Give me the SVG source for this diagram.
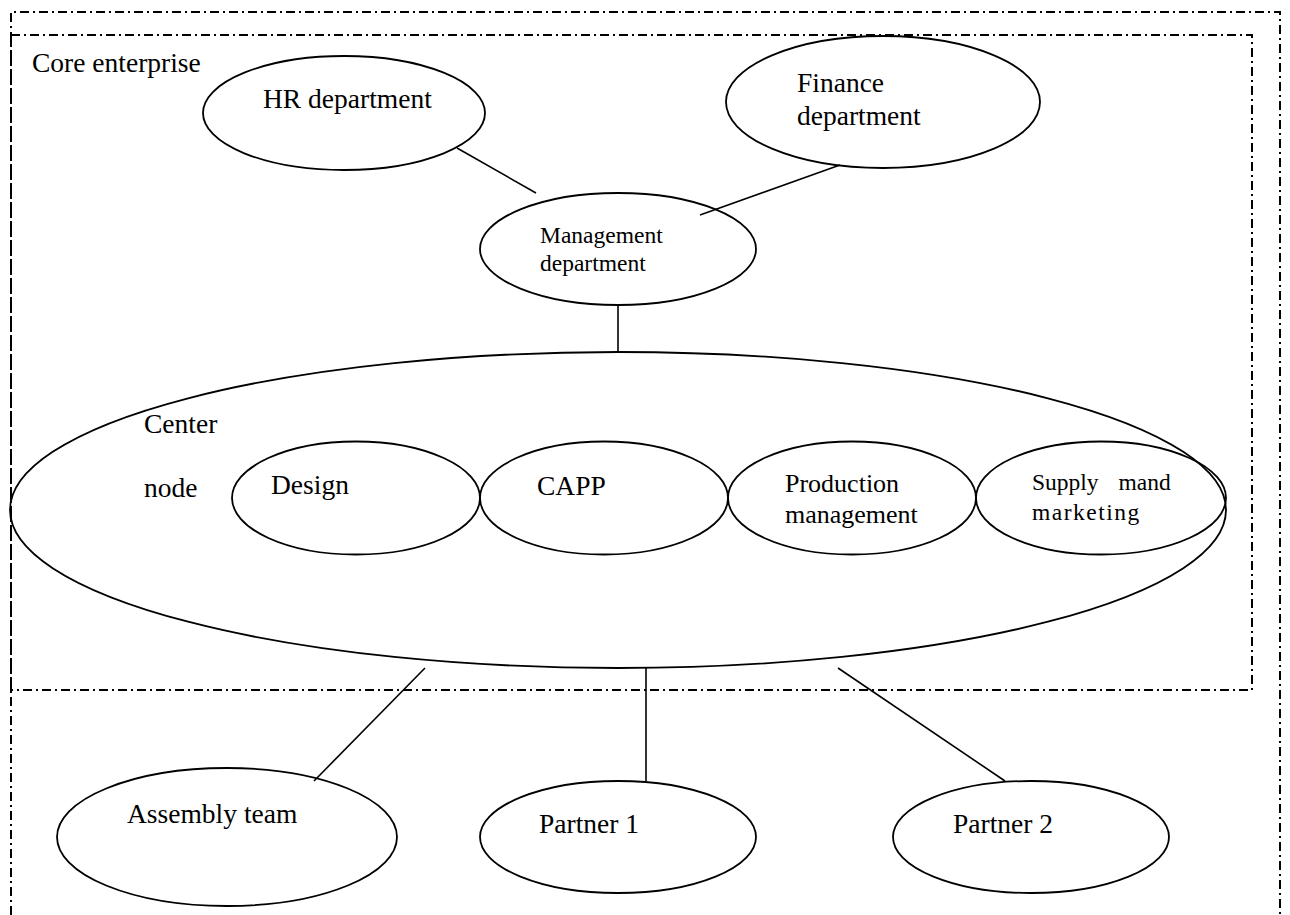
<svg xmlns="http://www.w3.org/2000/svg" width="1290" height="915" viewBox="0 0 1290 915">
<style>
text{font-family:"Liberation Serif","Times New Roman",serif;font-size:27.5px;fill:#000}
.sm{font-size:23.5px}
.md{font-size:26px}
ellipse{fill:none;stroke:#000;stroke-width:1.8}
.bx{fill:none;stroke:#000;stroke-width:2;stroke-dasharray:9 4 2 4}
.cn line{stroke:#000;stroke-width:1.6}
</style>
<rect width="1290" height="915" fill="#fff"/>
<g id="frames">
<path class="bx" d="M11,915 V12 H1280 V915"/>
<rect class="bx" x="11" y="35" width="1241" height="655"/>
<text x="32" y="72">Core enterprise</text>
</g>
<g class="cn" id="connectors">
<line x1="457" y1="148" x2="536" y2="193"/>
<line x1="840" y1="165" x2="700" y2="215"/>
<line x1="618" y1="306" x2="618" y2="352"/>
<line x1="425" y1="668" x2="314" y2="781"/>
<line x1="646" y1="668" x2="646" y2="781"/>
<line x1="838" y1="668" x2="1005" y2="781"/>
</g>
<g id="hr"><ellipse cx="344" cy="113" rx="141" ry="57"/><text x="263" y="108">HR department</text></g>
<g id="finance"><ellipse cx="883" cy="102" rx="157" ry="66"/><text x="797" y="92">Finance</text><text x="797" y="125">department</text></g>
<g id="management"><ellipse cx="618" cy="249" rx="138" ry="56"/><text class="sm" x="540" y="243">Management</text><text class="sm" x="540" y="271">department</text></g>
<g id="center"><ellipse cx="618" cy="510" rx="608" ry="158"/><text x="144" y="433">Center</text><text x="144" y="497">node</text></g>
<g id="design"><ellipse cx="356" cy="498" rx="124" ry="56.5"/><text x="271" y="494">Design</text></g>
<g id="capp"><ellipse cx="604" cy="498" rx="124" ry="56.5"/><text x="537" y="495">CAPP</text></g>
<g id="production"><ellipse cx="852" cy="498" rx="124" ry="56.5"/><text class="md" x="785" y="492">Production</text><text class="md" x="785" y="523">management</text></g>
<g id="supply"><ellipse cx="1101" cy="498" rx="125" ry="56.5"/><text class="sm" x="1032" y="490" word-spacing="14">Supply mand</text><text class="sm" x="1032" y="520" letter-spacing="1.5">marketing</text></g>
<g id="assembly"><ellipse cx="227" cy="837" rx="170" ry="69"/><text x="127" y="823">Assembly team</text></g>
<g id="partner1"><ellipse cx="618" cy="837" rx="138" ry="56"/><text x="539" y="833">Partner 1</text></g>
<g id="partner2"><ellipse cx="1031" cy="837" rx="138" ry="56"/><text x="953" y="833">Partner 2</text></g>
</svg>
